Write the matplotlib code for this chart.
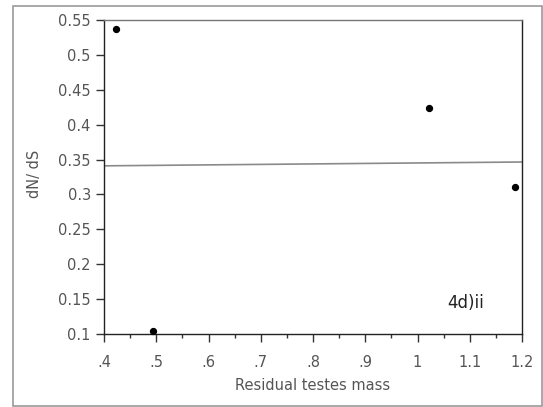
import matplotlib
matplotlib.use("Agg")
import matplotlib.pyplot as plt
from matplotlib.patches import Rectangle
import numpy as np

# Data
residual_testes_mass = [0.423, 0.493, 1.022, 1.187]
dn_ds = [0.537, 0.104, 0.424, 0.311]
fit_x = [0.4, 1.2]
fit_y = [0.341, 0.3465]

x_ticks = [0.4, 0.5, 0.6, 0.7, 0.8, 0.9, 1.0, 1.1, 1.2]
x_tick_labels = [".4", ".5", ".6", ".7", ".8", ".9", "1", "1.1", "1.2"]
y_ticks = [0.1, 0.15, 0.2, 0.25, 0.3, 0.35, 0.4, 0.45, 0.5, 0.55]
y_tick_labels = ["0.1", "0.15", "0.2", "0.25", "0.3", "0.35", "0.4", "0.45", "0.5", "0.55"]

fig = plt.figure(figsize=(5.43, 4.07), dpi=100)
W, H = 543, 407
left, right, top, bottom = 104, 522, 20, 334
ax = fig.add_axes([left / W, 1 - bottom / H, (right - left) / W, (bottom - top) / H])

ax.plot(fit_x, fit_y, color="#8a8a8a", lw=1.2, zorder=2)
ax.scatter(residual_testes_mass, dn_ds, s=18, color="black", zorder=3, clip_on=False)

ax.set_xlim(0.4, 1.2)
ax.set_ylim(0.1, 0.55)
ax.set_xticks(x_ticks)
ax.set_xticklabels(x_tick_labels)
ax.set_yticks(y_ticks)
ax.set_yticklabels(y_tick_labels)
ax.set_xticks(np.arange(0.45, 1.2, 0.1), minor=True)

label_color = "#555555"
ax.tick_params(axis="both", which="major", direction="out", length=6, width=1,
               color="#333333", labelcolor=label_color, labelsize=10.5)
ax.tick_params(axis="x", which="minor", direction="out", length=3, width=1, color="#333333")
ax.tick_params(axis="x", pad=9)

for side in ["left", "bottom", "right"]:
    ax.spines[side].set_color("#222222")
    ax.spines[side].set_linewidth(1.0)
ax.spines["top"].set_color("#777777")
ax.spines["top"].set_linewidth(1.0)

ax.set_xlabel("Residual testes mass", color=label_color, fontsize=10.5, labelpad=6)
ax.set_ylabel("dN/ dS", color=label_color, fontsize=10.5, labelpad=1)
ax.yaxis.set_label_coords((42 - left) / (right - left), 0.51)

ax.text(0.865, 0.1, "4d)ii", transform=ax.transAxes, fontsize=12, color="#222222",
        ha="center", va="center")

# outer frame
fig.patches.append(Rectangle((13 / W, 1 / H), (W - 14) / W, (H - 7) / H,
                             transform=fig.transFigure, fill=False,
                             edgecolor="#999999", lw=1.2))

fig.savefig("out.png", dpi=100)
